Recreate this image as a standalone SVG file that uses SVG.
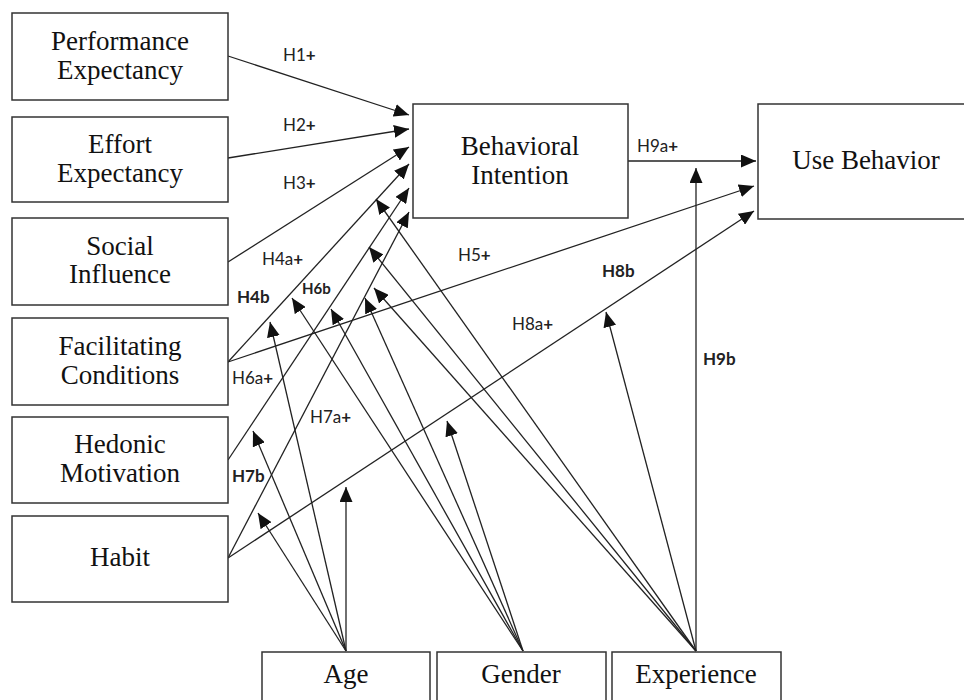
<svg xmlns="http://www.w3.org/2000/svg" width="964" height="700" viewBox="0 0 964 700">
<style>
.box{fill:#fff;stroke:#333;stroke-width:1.5}
.t{font-family:"Liberation Serif","Times New Roman",serif;font-size:27px;fill:#111;text-anchor:middle}
.c{stroke:#222;stroke-width:1.3;fill:none;marker-end:url(#ah)}
.l{font-family:Lato,"Open Sans",sans-serif;font-size:17px;fill:#222}
.b{font-weight:bold}
.s{font-size:15px}
</style>
<defs>
<marker id="ah" markerUnits="userSpaceOnUse" markerWidth="15" markerHeight="13" refX="15" refY="6.5" orient="auto">
<path d="M0,0 L15,6.5 L0,13 z" fill="#111"/>
</marker>
</defs>
<rect width="964" height="700" fill="#fff"/>
<g id="connectors">
<line class="c" x1="228" y1="56" x2="409" y2="115"/>
<line class="c" x1="228" y1="158" x2="409" y2="129"/>
<line class="c" x1="228" y1="262" x2="409" y2="147"/>
<line class="c" x1="228" y1="362" x2="409" y2="164"/>
<line class="c" x1="228" y1="460" x2="409" y2="188"/>
<line class="c" x1="228" y1="558" x2="409" y2="212"/>
<line class="c" x1="228" y1="362" x2="754" y2="186"/>
<line class="c" x1="228" y1="558" x2="754" y2="211"/>
<line class="c" x1="628" y1="161" x2="756" y2="161"/>
<line class="c" x1="346" y1="651" x2="270" y2="322"/>
<line class="c" x1="346" y1="651" x2="253" y2="431"/>
<line class="c" x1="346" y1="651" x2="258" y2="513"/>
<line class="c" x1="346" y1="651" x2="346" y2="487"/>
<line class="c" x1="523" y1="651" x2="292" y2="298"/>
<line class="c" x1="523" y1="651" x2="331" y2="309"/>
<line class="c" x1="523" y1="651" x2="365" y2="298"/>
<line class="c" x1="523" y1="651" x2="447" y2="421"/>
<line class="c" x1="696" y1="651" x2="376" y2="199"/>
<line class="c" x1="696" y1="651" x2="369" y2="247"/>
<line class="c" x1="696" y1="651" x2="374" y2="288"/>
<line class="c" x1="696" y1="651" x2="606" y2="312"/>
<line class="c" x1="696" y1="651" x2="696" y2="168"/>
</g>
<g id="pe"><rect class="box" x="12" y="13" width="216" height="87"/><text class="t" x="120" y="50">Performance</text><text class="t" x="120" y="79">Expectancy</text></g>
<g id="ee"><rect class="box" x="12" y="117" width="216" height="85"/><text class="t" x="120" y="153">Effort</text><text class="t" x="120" y="182">Expectancy</text></g>
<g id="si"><rect class="box" x="12" y="218" width="216" height="87"/><text class="t" x="120" y="255">Social</text><text class="t" x="120" y="283">Influence</text></g>
<g id="fc"><rect class="box" x="12" y="318" width="216" height="87"/><text class="t" x="120" y="355">Facilitating</text><text class="t" x="120" y="384">Conditions</text></g>
<g id="hm"><rect class="box" x="12" y="417" width="216" height="86"/><text class="t" x="120" y="453">Hedonic</text><text class="t" x="120" y="482">Motivation</text></g>
<g id="habit"><rect class="box" x="12" y="516" width="216" height="86"/><text class="t" x="120" y="566">Habit</text></g>
<g id="bi"><rect class="box" x="413" y="104" width="215" height="114"/><text class="t" x="520" y="155">Behavioral</text><text class="t" x="520" y="184">Intention</text></g>
<g id="ub"><rect class="box" x="758" y="104" width="214" height="115"/><text class="t" x="866" y="169">Use Behavior</text></g>
<g id="age"><rect class="box" x="262" y="652" width="168" height="60"/><text class="t" x="346" y="683">Age</text></g>
<g id="gender"><rect class="box" x="437" y="652" width="169" height="60"/><text class="t" x="521" y="683">Gender</text></g>
<g id="experience"><rect class="box" x="612" y="652" width="169" height="60"/><text class="t" x="696" y="683">Experience</text></g>
<g id="labels">
<text class="l" x="283" y="61">H1<tspan class="b">+</tspan></text>
<text class="l" x="283" y="131">H2<tspan class="b">+</tspan></text>
<text class="l" x="283" y="189">H3<tspan class="b">+</tspan></text>
<text class="l" x="262" y="265">H4a<tspan class="b">+</tspan></text>
<text class="l b" x="237" y="303">H4b</text>
<text class="l b s" x="302" y="294">H6b</text>
<text class="l" x="232" y="384">H6a<tspan class="b">+</tspan></text>
<text class="l" x="310" y="423">H7a<tspan class="b">+</tspan></text>
<text class="l b" x="232" y="482">H7b</text>
<text class="l" x="458" y="261">H5<tspan class="b">+</tspan></text>
<text class="l b" x="602" y="277">H8b</text>
<text class="l" x="512" y="330">H8a<tspan class="b">+</tspan></text>
<text class="l b" x="703" y="365">H9b</text>
<text class="l" x="637" y="152">H9a<tspan class="b">+</tspan></text>
</g>
</svg>
